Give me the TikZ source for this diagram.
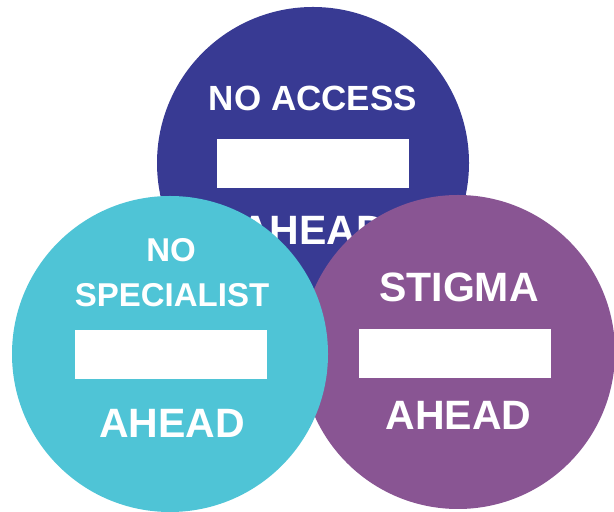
\documentclass[tikz,border=0pt]{standalone}
\usepackage{fontspec}
\setmainfont{Liberation Sans}
\usetikzlibrary{positioning}

\definecolor{accessblue}{RGB}{56,58,147}
\definecolor{specialistcyan}{RGB}{79,196,214}
\definecolor{stigmapurple}{RGB}{137,85,147}

\begin{document}
\begin{tikzpicture}[%
x=0.5pt, y=0.5pt,
bubble/.style={circle, draw=none, inner sep=0pt},
signbar/.style={rectangle, fill=white, draw=none, minimum width=96pt, minimum height=24.5pt, inner sep=0pt},
caption/.style={text=white, inner sep=0pt, font=\bfseries\fontsize{17.5}{21}\selectfont},
bigcaption/.style={text=white, inner sep=0pt, font=\bfseries\fontsize{20.5}{24}\selectfont},
smallcaption/.style={text=white, inner sep=0pt, font=\bfseries\fontsize{16.5}{20}\selectfont}
]
\useasboundingbox (0,0) rectangle (614,512);

% back circle: no access
\node[bubble, fill=accessblue, minimum size=156pt] (access) at (313,349) {};
\node[caption] (accesstxt) at (313,414) {NO ACCESS};
\node[signbar] (accessbar) at (312.5,348) {};
\node[bigcaption] (accessahead) at (313,282) {AHEAD};

% right circle: stigma
\node[bubble, fill=stigmapurple, minimum size=157pt] (stigma) at (458,160) {};
\node[bigcaption] (stigmatxt) at (459,225) {STIGMA};
\node[signbar] (stigmabar) at (454.5,158) {};
\node[bigcaption] (stigmaahead) at (458.5,97) {AHEAD};

% front circle: no specialist
\node[bubble, fill=specialistcyan, minimum size=158pt] (specialist) at (170,158) {};
\node[smallcaption] (specialistno) at (171,262) {NO};
\node[smallcaption] (specialisttxt) at (172,217) {SPECIALIST};
\node[signbar] (specialistbar) at (171,157) {};
\node[bigcaption] (specialistahead) at (172,89) {AHEAD};

\end{tikzpicture}
\end{document}
